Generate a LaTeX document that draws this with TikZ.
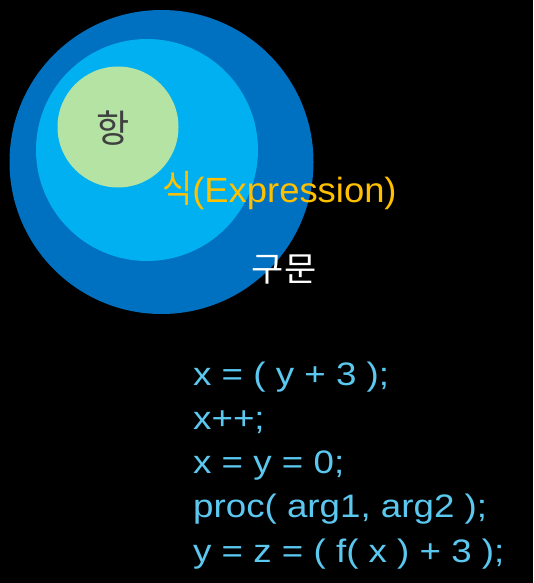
\documentclass[tikz,border=0pt]{standalone}
\usepackage{graphicx}
\usepackage{fontspec}
\setmainfont{Liberation Sans}
\newfontfamily\kor{Noto Sans CJK KR}
\definecolor{outerblue}{HTML}{0070C0}
\definecolor{midblue}{HTML}{00B0F0}
\definecolor{lgreen}{HTML}{B5E3A3}
\definecolor{darkgray}{HTML}{404040}
\definecolor{gold}{HTML}{FFC000}
\definecolor{codeblue}{HTML}{5BC8F0}
\newcommand{\wide}[1]{\scalebox{1.13}[1]{#1}}
\begin{document}
\begin{tikzpicture}[x=1pt,y=-1pt,
  codeline/.style={anchor=base west,inner sep=0pt,text=codeblue,font=\fontsize{32.5}{38}\selectfont},
  set/.style={circle,draw=none,inner sep=0pt}]
\fill[black] (0,0) rectangle (533,583);
\useasboundingbox (0,0) rectangle (533,583);
\node[set,fill=outerblue,minimum size=304pt] (stmt) at (161.5,162) {};
\node[set,fill=midblue,minimum size=222pt] (expr) at (147,150) {};
\node[set,fill=lgreen,minimum size=121pt] (term) at (118,127) {};
\node[text=darkgray,font=\kor\fontsize{38}{44}\selectfont,inner sep=0pt] (termlbl) at (113,128.5) {\scalebox{0.95}[1]{항}};
\node[text=gold,anchor=base west,inner sep=0pt,font=\fontsize{35}{40}\selectfont] (exprlbl) at (162,202) {\scalebox{1.04}[1]{\scalebox{0.9}[1.08]{\kor 식}(Expression)}};
\node[text=white,font=\kor\fontsize{34}{40}\selectfont,inner sep=0pt] (stmtlbl) at (284,270) {\scalebox{1.03}[1]{구문}};
\node[codeline] (c1) at (193,385) {\wide{x = ( y + 3 );}};
\node[codeline] (c2) at (193,429) {\wide{x++;}};
\node[codeline] (c3) at (193,473) {\wide{x = y = 0;}};
\node[codeline] (c4) at (193,517) {\wide{proc( arg1, arg2 );}};
\node[codeline] (c5) at (193,562) {\wide{y = z = ( f( x ) + 3 );}};
\end{tikzpicture}
\end{document}
